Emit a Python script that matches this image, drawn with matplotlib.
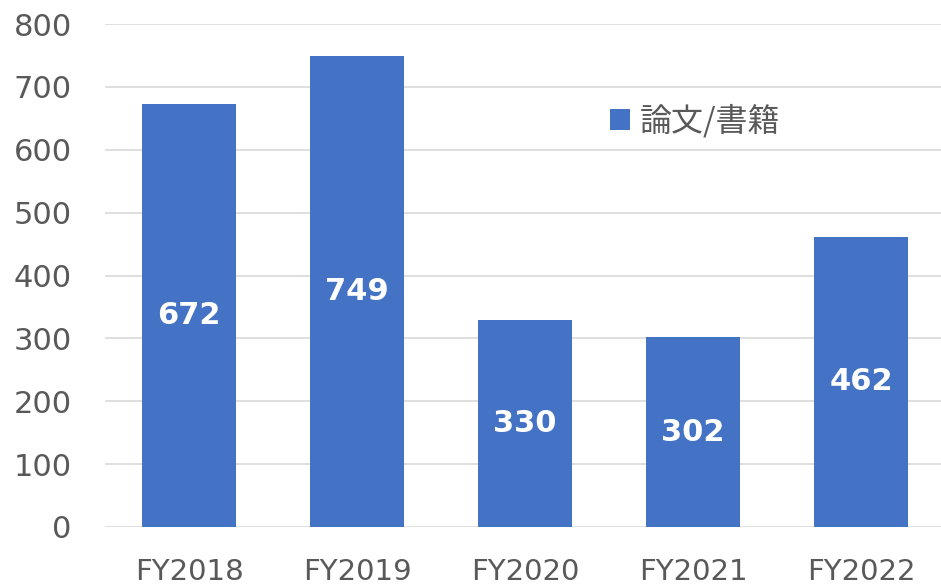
import matplotlib.pyplot as plt
from matplotlib.patches import Patch

# data
years = ['FY2018', 'FY2019', 'FY2020', 'FY2021', 'FY2022']
papers = [672, 749, 330, 302, 462]
series_name = '論文/書籍'

bar_color = '#4472C4'
text_color = '#595959'
grid_color = '#D9D9D9'

fig = plt.figure(figsize=(9.41, 5.85), dpi=100)
ax = fig.add_axes([105 / 941, 58 / 585, 840 / 941, 503 / 585])

x = range(len(years))
bars = ax.bar(x, papers, width=0.555, color=bar_color, zorder=3)

# value labels in the middle of each bar
ax.bar_label(bars, labels=[str(v) for v in papers], label_type='center',
             color='white', fontsize=22, fontweight='bold',
             fontfamily='DejaVu Sans')

ax.set_xlim(-0.5, len(years) - 0.5)
ax.set_ylim(0, 800)
ax.set_yticks(range(0, 801, 100))
ax.set_xticks(list(x))
ax.set_xticklabels(years, fontsize=21, color=text_color,
                   fontfamily=['Liberation Sans Narrow', 'DejaVu Sans'])
ax.tick_params(axis='y', labelsize=22, labelcolor=text_color, length=0, pad=24)
ax.tick_params(axis='x', length=0, pad=22)

ax.grid(axis='y', color=grid_color, linewidth=1.2, zorder=0)
for s in ax.spines.values():
    s.set_visible(False)

# legend
handle = Patch(facecolor=bar_color, edgecolor='none')
leg = fig.legend([handle], [series_name], loc='center left',
                 bbox_to_anchor=(610 / 941, 1 - 121 / 585),
                 frameon=False, borderpad=0, borderaxespad=0,
                 handlelength=0.62, handleheight=0.62, handletextpad=0.3,
                 prop={'family': ['Noto Sans CJK JP', 'DejaVu Sans'], 'size': 23})
for t in leg.get_texts():
    t.set_color(text_color)

fig.savefig('out.png', dpi=100)
